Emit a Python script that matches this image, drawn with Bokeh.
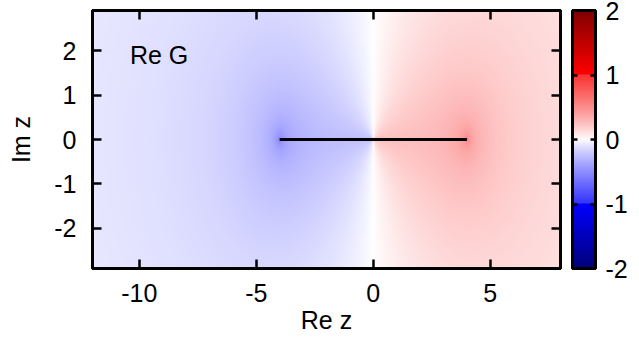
import numpy as np
from bokeh.plotting import figure
from bokeh.models import Range1d, LinearAxis, FixedTicker
from bokeh.layouts import row
from bokeh.embed import file_html
from bokeh.resources import INLINE
from bokeh.core.properties import value

# ---- data / parameters ----
X_RANGE = [-12.0, 8.0]
Y_RANGE = [-2.9, 2.9]
BAND_EDGES = [-4.0, 4.0]      # branch cut of G on the real axis
CUT_Y = [0.0, 0.0]
X_TICKS = [-10, -5, 0, 5]
X_TICK_LABELS = ["-10", "-5", "0", "5"]
Y_TICKS = [-2, -1, 0, 1, 2]
Y_TICK_LABELS = ["-2", "-1", "0", "1", "2"]
CB_RANGE = [-2.0, 2.0]
CB_TICKS = [-2, -1, 0, 1, 2]
CB_TICK_LABELS = ["-2", "-1", "0", "1", "2"]
PAL_VALUES = [-2.0, -1.0, -1.0, 0.0, 1.0, 1.0, 2.0]
PAL_R = [0, 0, 50, 255, 250, 255, 128]
PAL_G = [0, 0, 50, 255, 50, 0, 0]
PAL_B = [120, 255, 255, 255, 50, 0, 0]
PAL_GAMMA = 0.85
LABEL = "Re G"
LABEL_POS = [-10.4, 1.9]
X_TITLE = "Re z"
Y_TITLE = "Im z"
NX, NY = 468, 258

FONT = "Liberation Sans"
FS = "25px"


def green(z):
    """Square-lattice Green function, band [-4, 4]: G = 1/(z*AGM(1, sqrt(1-16/z^2)))."""
    w = np.sqrt(1.0 - (BAND_EDGES[1] ** 2) / z ** 2)
    a = np.ones_like(z)
    b = w
    for _ in range(40):
        a1 = 0.5 * (a + b)
        b1 = np.sqrt(a * b)
        flip = np.abs(a1 - b1) > np.abs(a1 + b1)
        b1 = np.where(flip, -b1, b1)
        a, b = a1, b1
    return 1.0 / (z * a)


def to_rgba(v):
    v = np.clip(v, PAL_VALUES[0], PAL_VALUES[-1])
    r = np.zeros_like(v)
    g = np.zeros_like(v)
    b = np.zeros_like(v)
    for i in range(len(PAL_VALUES) - 1):
        v0, v1 = PAL_VALUES[i], PAL_VALUES[i + 1]
        if v1 <= v0:
            continue
        m = (v >= v0) & (v <= v1)
        t = (v[m] - v0) / (v1 - v0)
        if v0 == 0.0:
            t = t ** PAL_GAMMA
        elif v1 == 0.0:
            t = 1.0 - (1.0 - t) ** PAL_GAMMA
        r[m] = PAL_R[i] + t * (PAL_R[i + 1] - PAL_R[i])
        g[m] = PAL_G[i] + t * (PAL_G[i + 1] - PAL_G[i])
        b[m] = PAL_B[i] + t * (PAL_B[i + 1] - PAL_B[i])
    img = np.empty(v.shape, dtype=np.uint32)
    view = img.view(dtype=np.uint8).reshape(v.shape + (4,))
    view[..., 0] = np.round(r).astype(np.uint8)
    view[..., 1] = np.round(g).astype(np.uint8)
    view[..., 2] = np.round(b).astype(np.uint8)
    view[..., 3] = 255
    return img


dx = (X_RANGE[1] - X_RANGE[0]) / NX
dy = (Y_RANGE[1] - Y_RANGE[0]) / NY
xs = X_RANGE[0] + (np.arange(NX) + 0.5) * dx
ys = Y_RANGE[0] + (np.arange(NY) + 0.5) * dy
XX, YY = np.meshgrid(xs, ys)
ZZ = XX + 1j * YY
reG = np.real(green(ZZ))
img = to_rgba(reG)


def style_axis(ax, tick_in, ticks, labels, show_labels):
    ax.ticker = FixedTicker(ticks=ticks)
    ax.axis_line_color = "black"
    ax.axis_line_width = 3
    ax.major_tick_in = tick_in
    ax.major_tick_out = 0
    ax.minor_tick_line_color = None
    ax.major_tick_line_width = 2.5
    ax.major_tick_line_color = "black"
    ax.major_label_text_font = FONT
    ax.major_label_text_font_size = FS
    ax.major_label_text_color = "black"
    ax.axis_label_text_font = FONT
    ax.axis_label_text_font_size = FS
    ax.axis_label_text_font_style = "normal"
    ax.axis_label_text_color = "black"
    if show_labels:
        ax.major_label_overrides = {t: s for t, s in zip(ticks, labels)}
    else:
        ax.major_label_overrides = {t: "" for t in ticks}
        ax.major_label_standoff = 0


# ---- main plot ----
p = figure(width=564, height=337,
           x_range=Range1d(*X_RANGE), y_range=Range1d(*Y_RANGE),
           output_backend="svg", toolbar_location=None,
           min_border_left=92, min_border_right=4,
           min_border_top=10, min_border_bottom=69)
p.grid.visible = False
p.image_rgba(image=[img], x=X_RANGE[0], y=Y_RANGE[0],
             dw=X_RANGE[1] - X_RANGE[0], dh=Y_RANGE[1] - Y_RANGE[0])
p.line(x=BAND_EDGES, y=CUT_Y, line_color="black", line_width=3)
p.text(x=[LABEL_POS[0]], y=[LABEL_POS[1]], text=[LABEL],
       text_font=value(FONT), text_font_size=FS,
       text_baseline="middle", text_align="left", text_color="black")

p.add_layout(LinearAxis(), "above")
p.add_layout(LinearAxis(), "right")
style_axis(p.below[0], 9, X_TICKS, X_TICK_LABELS, True)
style_axis(p.above[0], 9, X_TICKS, X_TICK_LABELS, False)
style_axis(p.left[0], 9, Y_TICKS, Y_TICK_LABELS, True)
style_axis(p.right[0], 9, Y_TICKS, Y_TICK_LABELS, False)
p.below[0].axis_label = X_TITLE
p.below[0].major_label_standoff = 15
p.below[0].axis_label_standoff = 1
p.left[0].axis_label = Y_TITLE
p.left[0].major_label_standoff = 16
p.left[0].axis_label_standoff = 16
p.outline_line_color = "black"
p.outline_line_width = 3
p.outline_line_alpha = 1.0

# ---- colour bar ----
cb_vals = np.linspace(CB_RANGE[0], CB_RANGE[1], 1024).reshape(-1, 1)
cb_img = to_rgba(cb_vals)
cb = figure(width=75, height=337,
            x_range=Range1d(0, 1), y_range=Range1d(*CB_RANGE),
            output_backend="svg", toolbar_location=None,
            x_axis_location="below", y_axis_location="right",
            min_border_left=8, min_border_right=44,
            min_border_top=10, min_border_bottom=69)
cb.grid.visible = False
cb.image_rgba(image=[cb_img], x=0, y=CB_RANGE[0], dw=1, dh=CB_RANGE[1] - CB_RANGE[0])
cb.add_layout(LinearAxis(), "left")
cb.add_layout(LinearAxis(), "above")
style_axis(cb.right[0], 5, CB_TICKS, CB_TICK_LABELS, True)
style_axis(cb.left[0], 5, CB_TICKS, CB_TICK_LABELS, False)
for ax in cb.below + cb.above:
    style_axis(ax, 0, [], [], False)
    ax.major_tick_line_color = None
cb.right[0].major_label_standoff = 10
cb.outline_line_color = "black"
cb.outline_line_width = 3
cb.outline_line_alpha = 1.0

layout = row(p, cb)
open("out.html", "w").write(file_html(layout, INLINE))
